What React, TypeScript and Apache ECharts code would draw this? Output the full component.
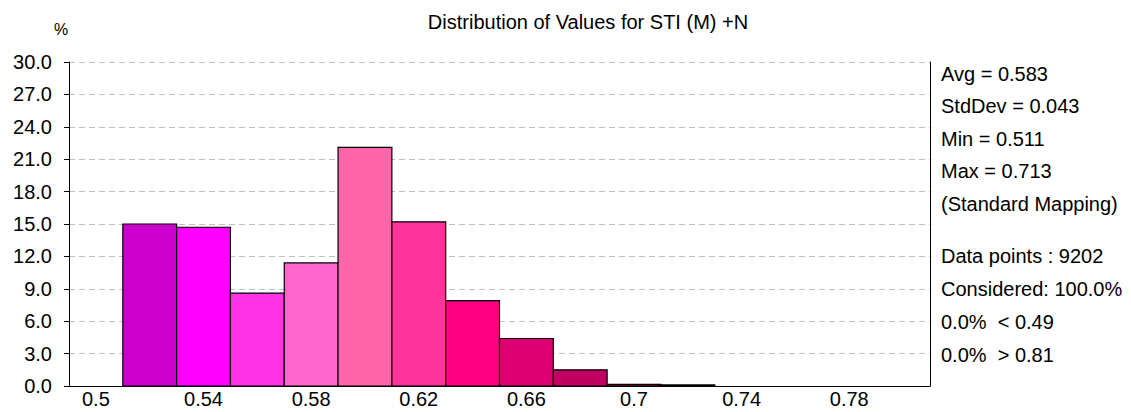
import React, { useEffect, useRef } from "react";
import * as echarts from "echarts";

const binLow = [0.51, 0.53, 0.55, 0.57, 0.59, 0.61, 0.63, 0.65, 0.67, 0.69, 0.71];
const binHigh = [0.53, 0.55, 0.57, 0.59, 0.61, 0.63, 0.65, 0.67, 0.69, 0.71, 0.73];
const percents = [15.0, 14.7, 8.6, 11.4, 22.1, 15.2, 7.9, 4.4, 1.5, 0.15, 0.1];
const barColors = [
  "#CC00CC", "#FF00FF", "#FF33E6", "#FF66CC", "#FF66AA", "#FF3399",
  "#FF0080", "#DD0070", "#C00060", "#A00050", "#900048",
];
const xTickValues = [0.5, 0.54, 0.58, 0.62, 0.66, 0.7, 0.74, 0.78];
const statLines = [
  "Avg = 0.583",
  "StdDev = 0.043",
  "Min = 0.511",
  "Max = 0.713",
  "(Standard Mapping)",
];
const countLines = [
  "Data points : 9202",
  "Considered: 100.0%",
  "0.0%  < 0.49",
  "0.0%  > 0.81",
];
const titleText = "Distribution of Values for STI (M) +N";

const FONT = "'Liberation Sans', Arial, sans-serif";

export default function App() {
  const ref = useRef<HTMLDivElement>(null);
  useEffect(() => {
    document.body.style.margin = "0";
    if (!ref.current) return;
    const chart = echarts.init(ref.current, undefined, { renderer: "svg" });
    const data = binLow.map((lo, i) => [lo, binHigh[i], percents[i]]);
    const statY = [76, 108, 141, 173, 206];
    const countY = [258, 291, 324, 357];
    const graphics: any[] = [];
    statLines.forEach((t, i) =>
      graphics.push({
        type: "text",
        left: 941,
        top: statY[i] - 12,
        style: { text: t, fontSize: 20, fontFamily: FONT, fill: "#000" },
      })
    );
    countLines.forEach((t, i) =>
      graphics.push({
        type: "text",
        left: 941,
        top: countY[i] - 12,
        style: { text: t, fontSize: 20, fontFamily: FONT, fill: "#000" },
      })
    );
    graphics.push({
      type: "text",
      left: 54,
      top: 21,
      style: { text: "%", fontSize: 16, fontFamily: FONT, fill: "#000" },
    });
    chart.setOption({
      animation: false,
      backgroundColor: "#fff",
      textStyle: { fontFamily: FONT },
      title: {
        text: titleText,
        left: 583,
        textAlign: "center",
        top: 7,
        textStyle: { fontSize: 20, fontWeight: "normal", color: "#000", fontFamily: FONT },
      },
      grid: { left: 69, right: 201, top: 62, bottom: 26 },
      xAxis: {
        type: "value",
        min: 0.49,
        max: 0.81,
        axisLine: { show: true, lineStyle: { color: "#000", width: 1 } },
        axisTick: { show: false },
        splitLine: { show: false },
        axisLabel: {
          customValues: xTickValues,
          fontSize: 20,
          color: "#000",
          margin: 3,
          fontFamily: FONT,
        },
      },
      yAxis: [
        {
          type: "value",
          min: 0,
          max: 30,
          interval: 3,
          axisLine: { show: true, lineStyle: { color: "#000", width: 1 } },
          axisTick: { show: true, length: 5, lineStyle: { color: "#000" } },
          splitLine: {
            show: true,
            lineStyle: { color: "#c0c0c0", type: [6, 4], width: 1 },
          },
          axisLabel: {
            formatter: (v: number) => v.toFixed(1),
            fontSize: 20,
            color: "#000",
            margin: 17,
            fontFamily: FONT,
          },
        },
        {
          type: "value",
          position: "right",
          min: 0,
          max: 30,
          interval: 3,
          axisLine: { show: true, lineStyle: { color: "#000", width: 1 } },
          axisTick: { show: false },
          axisLabel: { show: false },
          splitLine: { show: false },
        },
      ],
      series: [
        {
          type: "custom",
          data,
          encode: { x: [0, 1], y: 2 },
          renderItem: (params: any, api: any) => {
            const lo = api.value(0);
            const hi = api.value(1);
            const v = api.value(2);
            const p0 = api.coord([lo, v]);
            const p1 = api.coord([hi, 0]);
            return {
              type: "rect",
              shape: { x: p0[0], y: p0[1], width: p1[0] - p0[0], height: p1[1] - p0[1] },
              style: { fill: barColors[params.dataIndex], stroke: "#000", lineWidth: 1.2 },
            };
          },
        },
      ],
      graphic: graphics,
    });
    return () => chart.dispose();
  }, []);
  return <div ref={ref} style={{ width: 1131, height: 412 }} />;
}
